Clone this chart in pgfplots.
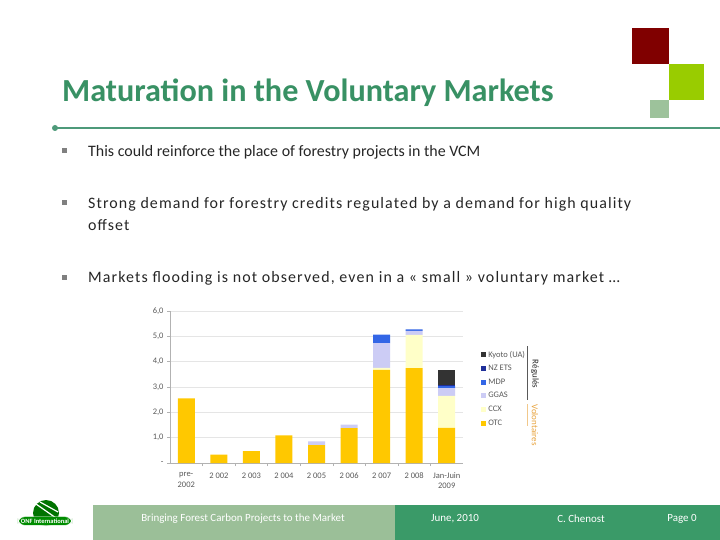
\documentclass[border=0pt]{standalone}
\usepackage{pgfplots}
\pgfplotsset{compat=1.18}
\usepackage{fontspec}
\setmainfont{Carlito}

\definecolor{titlegreen}{HTML}{389164}
\definecolor{linegreen}{HTML}{4E9A7A}
\definecolor{darkred}{HTML}{800000}
\definecolor{limegr}{HTML}{99CC00}
\definecolor{sage}{HTML}{9DC29B}
\definecolor{footlight}{HTML}{9BBF98}
\definecolor{footdark}{HTML}{3A9A68}
\definecolor{bodytext}{HTML}{262626}
\definecolor{ticktext}{HTML}{595959}
\definecolor{otc}{HTML}{FFC800}
\definecolor{ccx}{HTML}{FFFFC8}
\definecolor{ggas}{HTML}{CCCCF5}
\definecolor{mdp}{HTML}{3366E6}
\definecolor{nzets}{HTML}{1F2F99}
\definecolor{kyoto}{HTML}{333333}
\definecolor{volorange}{HTML}{E8A33D}

\begin{document}
\begin{tikzpicture}[x=1bp,y=-1bp]
\path[use as bounding box, fill=white] (0,0) rectangle (720,540);

% corner squares
\fill[darkred] (632,28) rectangle (669,64);
\fill[limegr] (669,64) rectangle (704,100);
\fill[sage] (650,100) rectangle (669,118);

% title and rule
\node[anchor=base west, inner sep=0, text=titlegreen,
      font=\fontsize{32.3}{36}\selectfont\bfseries] at (62,102) {Maturation in the Voluntary Markets};
\draw[linegreen, line width=2.5bp] (55,128) -- (720,128);
\fill[linegreen] (55,128) circle (3bp);

% bullets
\foreach \yy in {151,203,277} \fill[gray] (62,\yy-2.5) rectangle (67,\yy+2.5);
\begin{scope}[every node/.style={anchor=base west, inner sep=0, text=bodytext,
      font=\fontsize{16}{20}\selectfont}]
\node at (88,157) {This could reinforce the place of forestry projects in the VCM};
\node at (88,209) {\addfontfeature{LetterSpace=6.8}Strong demand for forestry credits regulated by a demand for high quality};
\node at (88,231) {\addfontfeature{LetterSpace=6.8}offset};
\node at (88,283) {\addfontfeature{LetterSpace=7}Markets flooding is not observed, even in a « small » voluntary market …};
\end{scope}

% footer
\fill[footlight] (93,505) rectangle (395,540);
\fill[footdark] (395,505) rectangle (720,540);
\begin{scope}[every node/.style={text=white, inner sep=0, font=\fontsize{11}{13}\selectfont}]
\node at (243,518.5) {Bringing Forest Carbon Projects to the Market};
\node at (455,518.5) {June, 2010};
\node at (581,518.5) {C. Chenost};
\node at (682,518.5) {Page 0};
\end{scope}

% logo
\fill[green!45!black] (46,513) circle (13bp);
\draw[white, line width=1.2bp] (36,504) -- (56,518);
\draw[white, line width=1.2bp] (40,502) -- (58,512);
\node[fill=green!55!black, draw=white, rounded corners=7bp, text=white, inner xsep=3bp, inner ysep=2bp,
      font=\fontsize{6.5}{7}\selectfont\bfseries] at (45,521) {ONF International};

% bracket labels of the legend
\draw[gray!70!black, line width=0.8bp] (527,346) -- (527,400);
\node[rotate=-90, text=bodytext, inner sep=0, font=\fontsize{9}{10}\selectfont] at (535,374) {Régulés};
\draw[volorange!60, line width=0.8bp] (527,404) -- (527,426);
\node[rotate=-90, text=volorange, inner sep=0, font=\fontsize{9}{10}\selectfont] at (535,425) {Volontaires};

\begin{axis}[
    at={(170bp,-463bp)}, anchor=south west, scale only axis,
    width=293bp, height=152bp,
    ybar stacked, bar width=17bp,
    xmin=-0.5, xmax=8.5, ymin=0, ymax=6,
    xtick={0,...,8},
    xticklabels={{pre-\\2002},2 002,2 003,2 004,2 005,2 006,2 007,2 008,{Jan-Juin\\2009}},
    ytick={0,...,6},
    yticklabels={-,{1,0},{2,0},{3,0},{4,0},{5,0},{6,0}},
    axis x line*=bottom, axis y line*=left,
    axis line style={gray!60},
    tick align=outside,
    major x tick style={draw=none},
    minor xtick={0.5,1.5,...,7.5},
    minor tick length=3bp, major tick length=3bp,
    every tick/.style={gray!60},
    ymajorgrids, grid style={gray!20},
    tick label style={font=\fontsize{8.5}{10.5}\selectfont, text=ticktext},
    xticklabel style={align=center, yshift=-3bp},
    /pgf/number format/assume math mode=true,
    reverse legend,
    legend cell align=left,
    legend style={at={(1.05,0.755)}, anchor=north west, draw=none, fill=none,
        font=\fontsize{8.5}{9}\selectfont, text=ticktext,
        row sep=5.6bp, nodes={inner sep=0.5bp}},
    legend image code/.code={\fill[#1] (0bp,-2.5bp) rectangle (5bp,2.5bp); \path (7bp,0bp);},
]
\addplot[fill=otc, draw=none] coordinates {(0,2.55) (1,0.33) (2,0.47) (3,1.09) (4,0.71) (5,1.38) (6,3.68) (7,3.75) (8,1.39)};
\addplot[fill=ccx, draw=none] coordinates {(0,0) (1,0) (2,0) (3,0) (4,0) (5,0) (6,0.08) (7,1.31) (8,1.26)};
\addplot[fill=ggas, draw=none] coordinates {(0,0) (1,0) (2,0) (3,0) (4,0.14) (5,0.14) (6,0.97) (7,0.16) (8,0.31)};
\addplot[fill=mdp, draw=none] coordinates {(0,0) (1,0) (2,0) (3,0) (4,0) (5,0) (6,0.34) (7,0.06) (8,0.07)};
\addplot[fill=nzets, draw=none] coordinates {(0,0) (1,0) (2,0) (3,0) (4,0) (5,0) (6,0) (7,0) (8,0.04)};
\addplot[fill=kyoto, draw=none] coordinates {(0,0) (1,0) (2,0) (3,0) (4,0) (5,0) (6,0) (7,0) (8,0.61)};
\legend{OTC,CCX,GGAS,MDP,NZ ETS,Kyoto (UA)}
\end{axis}
\end{tikzpicture}
\end{document}
